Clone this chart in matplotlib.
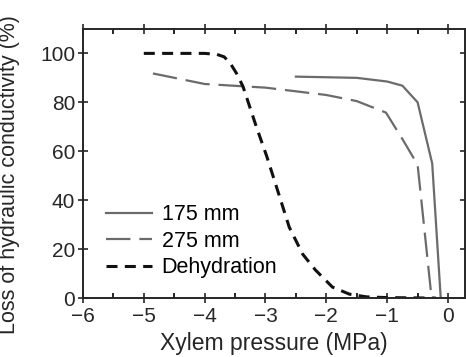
import numpy as np
import matplotlib.pyplot as plt
from matplotlib.ticker import MultipleLocator

plt.rcParams['font.family'] = ['Liberation Sans', 'DejaVu Sans']

# data
x_175 = [-2.5, -1.5, -1.0, -0.75, -0.5, -0.26, -0.12]
y_175 = [90.5, 90.0, 88.5, 86.8, 80.0, 55.0, 0.0]

x_275 = [-4.85, -4.0, -3.0, -2.0, -1.5, -1.02, -0.75, -0.5, -0.27]
y_275 = [91.8, 87.5, 86.0, 83.0, 80.5, 75.8, 65.0, 54.5, 0.0]

x_dehy = [-5.0, -4.0, -3.8, -3.68, -3.58, -3.48, -3.37, -3.15, -2.98, -2.82,
          -2.61, -2.39, -2.18, -1.9, -1.62, -1.34, -1.0, -0.2]
y_dehy = [100.0, 100.0, 99.6, 98.6, 96.0, 92.0, 86.5, 70.0, 58.0, 45.5,
          29.0, 18.0, 11.5, 4.5, 1.6, 0.5, 0.2, 0.0]

xticks = [-6, -5, -4, -3, -2, -1, 0]
yticks = [0, 20, 40, 60, 80, 100]

fig = plt.figure(figsize=(4.66, 3.57), dpi=100)
ax = fig.add_axes([0.178, 0.165, 0.82, 0.754])

gray = '#6b6b6b'
ink = '#262626'
ax.plot(x_175, y_175, color=gray, lw=1.6, label='175 mm')
ax.plot(x_275, y_275, color=gray, lw=1.6, dashes=(11, 4), label='275 mm')
ax.plot(x_dehy, y_dehy, color='#111111', lw=2.2, dashes=(3.6, 2.4), label='Dehydration')

ax.set_xlim(-6, 0.28)
ax.set_ylim(0, 110)
ax.set_xticks(xticks)
ax.set_xticklabels(['\u2212%d' % -t if t < 0 else '%d' % t for t in xticks])
ax.set_yticks(yticks)
ax.xaxis.set_minor_locator(MultipleLocator(0.5))

ax.tick_params(axis='both', which='major', direction='inout', length=7, width=1.2,
               labelsize=15, colors=ink)
ax.tick_params(axis='x', which='minor', direction='in', length=3.5, width=1.2, top=True)
ax.tick_params(axis='x', which='major', top=True)
ax.tick_params(axis='y', which='major', right=True)
ax.tick_params(axis='x', pad=3)
ax.tick_params(axis='y', pad=2)
for s in ax.spines.values():
    s.set_linewidth(1.4)
    s.set_color(ink)

ax.set_xlabel('Xylem pressure (MPa)', fontsize=16.5, color=ink, labelpad=4)
ax.set_ylabel('Loss of hydraulic conductivity (%)', fontsize=15.5, color=ink)
ax.yaxis.set_label_coords(-0.165, 0.46)

ax.legend(loc='lower left', bbox_to_anchor=(0.02, 0.018), frameon=False, fontsize=15.5,
          handlelength=2.15, labelspacing=0.25, handletextpad=0.45, borderpad=0.2)

fig.savefig('out.png', dpi=100)
